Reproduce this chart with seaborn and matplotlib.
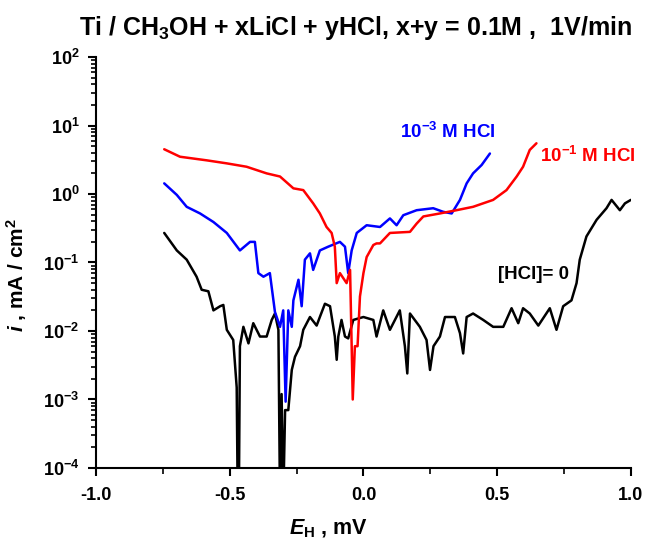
import numpy as np
import pandas as pd
import matplotlib
matplotlib.use("Agg")
import matplotlib.pyplot as plt
from matplotlib.ticker import (FixedLocator, MultipleLocator, LogFormatterMathtext,
                               FormatStrFormatter, NullFormatter)
import seaborn as sns

# ---- data ----
red_x = [-0.745, -0.686, -0.586, -0.511, -0.437, -0.362, -0.312, -0.262, -0.225, -0.188,
         -0.163, -0.138, -0.119, -0.107, -0.100, -0.088, -0.063, -0.050, -0.044, -0.040,
         -0.032, -0.022, -0.013, 0.000, 0.012, 0.037, 0.049, 0.062, 0.099, 0.174, 0.199,
         0.224, 0.286, 0.348, 0.410, 0.485, 0.535, 0.573, 0.597, 0.622, 0.647]
red_y = [4.5, 3.5, 3.1, 2.8, 2.5, 2.0, 1.8, 1.21, 1.14, 0.73,
         0.52, 0.33, 0.27, 0.17, 0.05, 0.07, 0.05, 0.078, 0.006, 0.001,
         0.006, 0.006, 0.032, 0.07, 0.12, 0.18, 0.19, 0.19, 0.27, 0.28, 0.37,
         0.47, 0.52, 0.58, 0.65, 0.82, 1.14, 1.8, 2.5, 4.4, 5.5]

blue_x = [-0.745, -0.698, -0.661, -0.611, -0.561, -0.511, -0.462, -0.424, -0.406, -0.393,
          -0.374, -0.350, -0.331, -0.312, -0.300, -0.291, -0.281, -0.268, -0.262, -0.243,
          -0.231, -0.219, -0.200, -0.188, -0.163, -0.132, -0.088, -0.069, -0.057, -0.044,
          -0.025, 0.012, 0.062, 0.099, 0.124, 0.149, 0.199, 0.261, 0.298, 0.330, 0.361,
          0.386, 0.410, 0.442, 0.473]
blue_y = [1.43, 0.97, 0.65, 0.52, 0.39, 0.27, 0.15, 0.20, 0.20, 0.07,
          0.062, 0.07, 0.019, 0.0115, 0.02, 0.00093, 0.02, 0.0115, 0.028, 0.056,
          0.023, 0.11, 0.136, 0.078, 0.15, 0.17, 0.20, 0.17, 0.07, 0.15,
          0.27, 0.35, 0.33, 0.44, 0.35, 0.49, 0.58, 0.62, 0.55, 0.52, 0.82,
          1.43, 2.0, 2.65, 3.9]

black_x = [-0.745, -0.698, -0.661, -0.624, -0.605, -0.580, -0.561, -0.536, -0.524, -0.511,
           -0.487, -0.474, -0.470, -0.466, -0.462, -0.449, -0.430, -0.412, -0.387, -0.362,
           -0.343, -0.331, -0.318, -0.312, -0.306, -0.300, -0.293, -0.281, -0.268, -0.256,
           -0.237, -0.225, -0.200, -0.175, -0.163, -0.144, -0.125, -0.107, -0.100, -0.094,
           -0.082, -0.069, -0.057, -0.038, 0.000, 0.037, 0.049, 0.074, 0.099, 0.136,
           0.155, 0.164, 0.174, 0.211, 0.236, 0.249, 0.262, 0.286, 0.305, 0.342,
           0.361, 0.373, 0.386, 0.410, 0.448, 0.485, 0.523, 0.554, 0.579, 0.597,
           0.622, 0.654, 0.697, 0.722, 0.747, 0.778, 0.797, 0.809, 0.834, 0.872,
           0.909, 0.928, 0.959, 0.978, 1.000]
black_y = [0.27, 0.15, 0.11, 0.062, 0.04, 0.038, 0.02, 0.023, 0.024, 0.0104,
           0.0074, 0.0015, 0.00003, 0.00003, 0.006, 0.0115, 0.0066, 0.013, 0.0083, 0.0083,
           0.0145, 0.018, 0.0104, 0.00003, 0.0012, 0.00003, 0.0007, 0.0007, 0.0027, 0.0042,
           0.006, 0.0104, 0.016, 0.012, 0.016, 0.025, 0.023, 0.0083, 0.0038, 0.0083,
           0.0145, 0.0083, 0.0078, 0.0145, 0.016, 0.0145, 0.0083, 0.02, 0.0104, 0.02,
           0.006, 0.0024, 0.018, 0.0115, 0.0074, 0.0027, 0.006, 0.0083, 0.016, 0.016,
           0.0093, 0.0047, 0.016, 0.018, 0.0145, 0.0115, 0.0115, 0.0215, 0.013, 0.0215,
           0.018, 0.012, 0.0215, 0.0104, 0.023, 0.028, 0.05, 0.11, 0.24, 0.42,
           0.62, 0.82, 0.58, 0.73, 0.82]

y_major = [1e-4, 1e-3, 1e-2, 1e-1, 1e0, 1e1, 1e2]
labels = ["[HCl]= 0", "10$^{-3}$ M HCl", "10$^{-1}$ M HCl"]
title = "Ti / CH$_3$OH + xLiCl + yHCl, x+y = 0.1M ,  1V/min"

# ---- style ----
sns.set_theme(style="ticks")
plt.rcParams['font.family'] = ['Liberation Sans', 'DejaVu Sans']
plt.rcParams['mathtext.fontset'] = 'custom'
plt.rcParams['mathtext.rm'] = 'Liberation Sans:bold'
plt.rcParams['mathtext.bf'] = 'Liberation Sans:bold'
plt.rcParams['mathtext.it'] = 'Liberation Sans:bold:italic'
plt.rcParams['mathtext.default'] = 'rm'
for k in ['text.color', 'axes.labelcolor', 'xtick.color', 'ytick.color', 'axes.edgecolor']:
    plt.rcParams[k] = 'black'

fig = plt.figure(figsize=(6.49, 5.45), dpi=100)
ax = fig.add_axes([0.148, 0.1413, 0.824, 0.7541])

df = pd.concat([
    pd.DataFrame({"E": black_x, "i": black_y, "s": "black"}),
    pd.DataFrame({"E": blue_x, "i": blue_y, "s": "blue"}),
    pd.DataFrame({"E": red_x, "i": red_y, "s": "red"}),
])
for name, col in [("black", "black"), ("blue", "#0000ff"), ("red", "#ff0000")]:
    sub = df[df.s == name]
    sns.lineplot(data=sub, x="E", y="i", ax=ax, color=col, lw=1.8, sort=False,
                 estimator=None)

ax.set_yscale("log")
ax.set_xlim(-1.0, 1.0)
ax.set_ylim(1e-4, 1e2)
ax.xaxis.set_major_locator(MultipleLocator(0.5))
ax.xaxis.set_minor_locator(MultipleLocator(0.25))
ax.xaxis.set_major_formatter(FormatStrFormatter("%.1f"))
ax.xaxis.set_minor_formatter(NullFormatter())
y_minor = [m * d for d in y_major[:-1] for m in range(2, 10)]
ax.yaxis.set_major_locator(FixedLocator(y_major))
ax.yaxis.set_minor_locator(FixedLocator(y_minor))
ax.yaxis.set_major_formatter(LogFormatterMathtext())
ax.yaxis.set_minor_formatter(NullFormatter())

sns.despine(ax=ax)
for sp in ["left", "bottom"]:
    ax.spines[sp].set_linewidth(1.5)
    ax.spines[sp].set_color("black")
ax.tick_params(axis="both", which="major", direction="out", length=6, width=1.5,
               colors="black", labelsize=13)
ax.tick_params(axis="x", which="major", pad=8)
ax.tick_params(axis="y", which="major", pad=6)
ax.tick_params(axis="y", which="minor", direction="out", length=3.5, width=1.2, colors="black")
ax.tick_params(axis="x", which="minor", direction="out", length=4, width=1.2, colors="black")
for lab in ax.get_xticklabels() + ax.get_yticklabels():
    lab.set_fontweight("bold")

ax.set_xlabel("$\\it{E}_\\mathrm{H}$ , mV", fontsize=15.5, fontweight="bold")
ax.xaxis.set_label_coords(0.435, -0.122)
ax.set_ylabel("$\\it{i}$ , mA / cm$^2$", fontsize=15, fontweight="bold")
ax.yaxis.set_label_coords(-0.125, 0.47)
ax.set_title(title, fontsize=18, fontweight="bold", pad=16, x=0.486)

ax.text(0.316, 8.0, labels[1], color="#0000ff", fontsize=13.5, fontweight="bold", ha="center", va="center")
ax.text(0.839, 3.6, labels[2], color="#ff0000", fontsize=13.5, fontweight="bold", ha="center", va="center")
ax.text(0.636, 0.066, labels[0], color="black", fontsize=13.5, fontweight="bold", ha="center", va="center")

ax.grid(False)
fig.savefig("out.png", dpi=100)
